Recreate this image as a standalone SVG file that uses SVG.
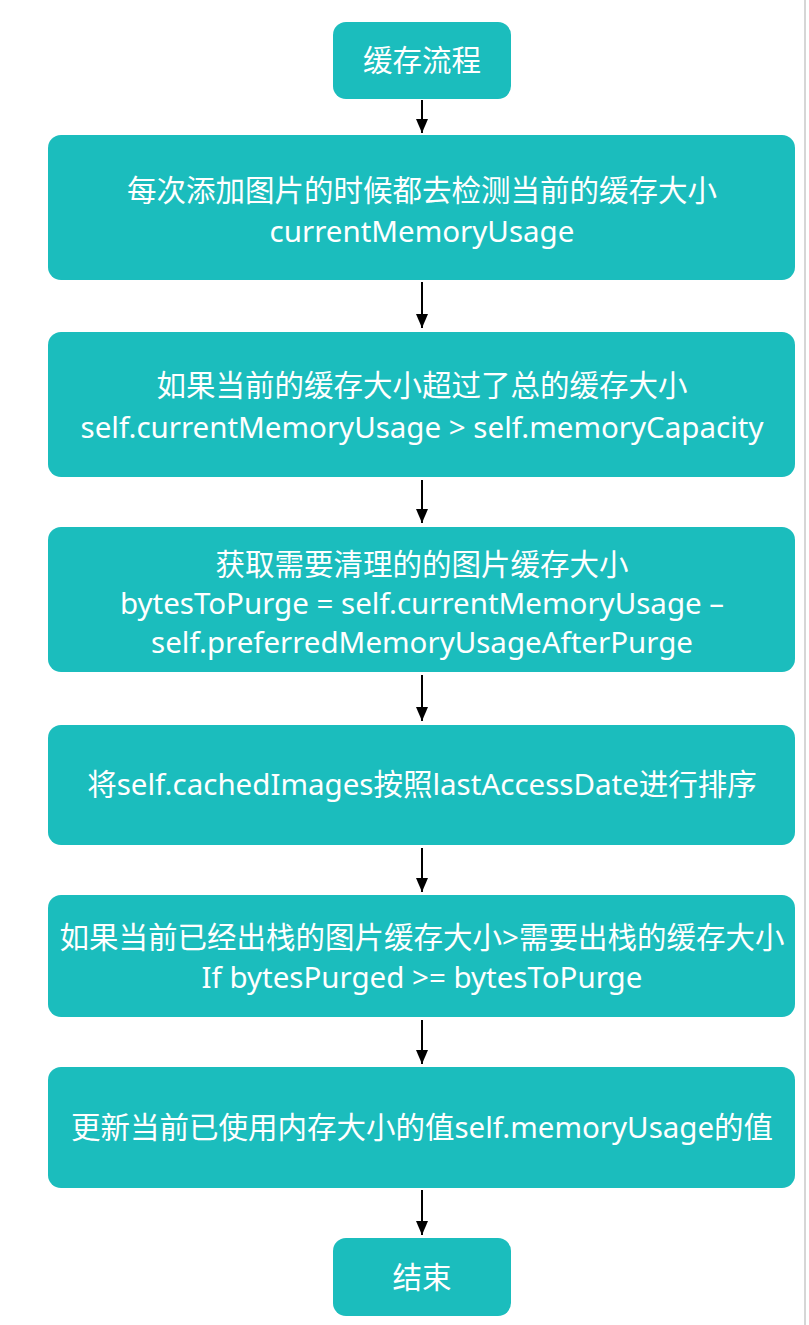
<svg xmlns="http://www.w3.org/2000/svg" width="809" height="1325" viewBox="0 0 809 1325">
<style>
.box{fill:#1BBDBD;}
.t{fill:#FFFFFF;font-family:"Noto Sans","Noto Sans CJK SC",sans-serif;font-size:29.5px;text-anchor:middle;}
.c{stroke:#000;stroke-width:2;fill:none;}
</style>
<defs>
<marker id="arr" viewBox="0 0 14 12" refX="14" refY="6" markerWidth="14" markerHeight="12" orient="auto" markerUnits="userSpaceOnUse">
<path d="M0,0 L14,6 L0,12 Z" fill="#000"/>
</marker>
</defs>
<rect width="809" height="1325" fill="#fff"/>
<line x1="805" y1="0" x2="805" y2="1325" stroke="#d6d6d6" stroke-width="2"/>
<g id="connectors">
<line class="c" x1="422" y1="100" x2="422" y2="133" marker-end="url(#arr)"/>
<line class="c" x1="422" y1="282" x2="422" y2="328" marker-end="url(#arr)"/>
<line class="c" x1="422" y1="480" x2="422" y2="523" marker-end="url(#arr)"/>
<line class="c" x1="422" y1="675" x2="422" y2="721" marker-end="url(#arr)"/>
<line class="c" x1="422" y1="848" x2="422" y2="892" marker-end="url(#arr)"/>
<line class="c" x1="422" y1="1020" x2="422" y2="1064" marker-end="url(#arr)"/>
<line class="c" x1="422" y1="1190" x2="422" y2="1235" marker-end="url(#arr)"/>
</g>
<g id="start">
<rect class="box" x="333" y="22" width="178" height="77" rx="13"/>
<text class="t" x="422" y="71">缓存流程</text>
</g>
<g id="n1">
<rect class="box" x="48" y="135" width="747" height="145" rx="13"/>
<text class="t" x="422" y="201">每次添加图片的时候都去检测当前的缓存大小</text>
<text class="t" x="422" y="242">currentMemoryUsage</text>
</g>
<g id="n2">
<rect class="box" x="48" y="332" width="747" height="145" rx="13"/>
<text class="t" x="422" y="396">如果当前的缓存大小超过了总的缓存大小</text>
<text class="t" x="422" y="438">self.currentMemoryUsage &gt; self.memoryCapacity</text>
</g>
<g id="n3">
<rect class="box" x="48" y="527" width="747" height="145" rx="13"/>
<text class="t" x="422" y="575">获取需要清理的的图片缓存大小</text>
<text class="t" x="422" y="614">bytesToPurge = self.currentMemoryUsage –</text>
<text class="t" x="422" y="653">self.preferredMemoryUsageAfterPurge</text>
</g>
<g id="n4">
<rect class="box" x="48" y="725" width="747" height="120" rx="13"/>
<text class="t" x="422" y="795">将self.cachedImages按照lastAccessDate进行排序</text>
</g>
<g id="n5">
<rect class="box" x="48" y="895" width="747" height="122" rx="13"/>
<text class="t" x="422" y="948">如果当前已经出栈的图片缓存大小&gt;需要出栈的缓存大小</text>
<text class="t" x="422" y="988">If bytesPurged &gt;= bytesToPurge</text>
</g>
<g id="n6">
<rect class="box" x="48" y="1067" width="747" height="121" rx="13"/>
<text class="t" x="422" y="1138">更新当前已使用内存大小的值self.memoryUsage的值</text>
</g>
<g id="end">
<rect class="box" x="333" y="1238" width="178" height="78" rx="13"/>
<text class="t" x="422" y="1288">结束</text>
</g>
</svg>
